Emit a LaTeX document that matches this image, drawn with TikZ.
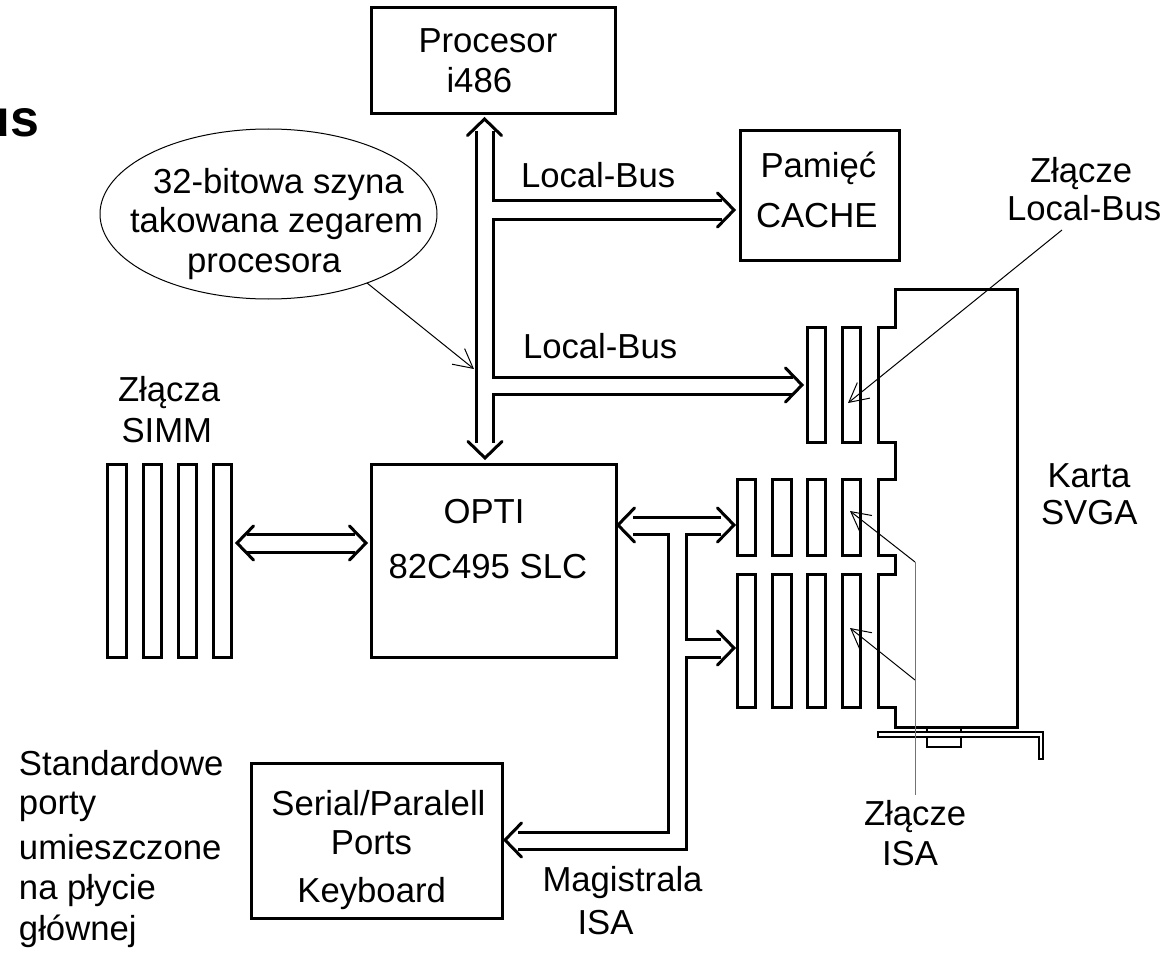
\documentclass[tikz,border=0pt]{standalone}
\usepackage{fontspec}
\setmainfont{Liberation Sans}
\usetikzlibrary{arrows.meta,shapes.geometric,calc}
\tikzset{
  x=1pt,y=-1pt,
  every node/.style={inner sep=0pt,outer sep=0pt,font=\fontsize{34.7}{41}\selectfont},
  box/.style={draw,line width=3pt,anchor=north west},
  slot/.style={draw,line width=3pt,anchor=north west,minimum width=18.5pt},
  lbl/.style={anchor=base west,align=left},
  bus/.style={line width=3pt,line join=miter},
  callout/.style={line width=1pt,-{Straight Barb[length=19pt,width=20pt,line width=1pt]}},
  stem/.style={line width=1pt,draw=black!55},
}
% hollow-arrow barbs at a named tip: #1 tip, #2/#3 offsets
\newcommand{\headat}[3]{\draw[bus,line cap=round] ($(#1)+(#2)$) -- (#1) -- ($(#1)+(#3)$);}
\begin{document}
\begin{tikzpicture}
\useasboundingbox (0,0) rectangle (1176,955);

% main boxes
\node[box,minimum width=244.5pt,minimum height=106pt] (cpu) at (371,8) {};
\node[box,minimum width=159pt,minimum height=129pt] (cache) at (740,131) {};
\node[box,minimum width=245pt,minimum height=193pt] (opti) at (371,464) {};
\node[box,minimum width=250.5pt,minimum height=155pt] (ports) at (251.5,763) {};

% SIMM slots
\foreach \n/\x in {1/107.5,2/143,3/178,4/213}
  \node[slot,minimum height=193pt] (simm\n) at (\x,464) {};
% Local-Bus slots
\foreach \n/\x in {1/807,2/842}
  \node[slot,minimum height=115pt] (lb\n) at (\x,327) {};
% ISA slots
\foreach \n/\x in {1/737,2/772.5,3/807,4/842}{
  \node[slot,minimum height=76pt] (isaa\n) at (\x,479) {};
  \node[slot,minimum height=133pt] (isab\n) at (\x,574) {};
}

% SVGA card
\draw[bus] (895,289) -- (895,327) -- (878,327) -- (878,442) -- (895,442) -- (895,479)
  -- (878,479) -- (878,555) -- (895,555) -- (895,574) -- (878,574) -- (878,707)
  -- (895,707) -- (895,727) -- (1017,727) -- (1017,289) -- cycle;
\draw[line width=2.5pt,line join=miter] (878,732) -- (1043,732) -- (1043,759) -- (1039,759) -- (1039,737) -- (878,737) -- cycle;
\draw[line width=2pt] (927,727) -- (927,732) (961,727) -- (961,732);
\draw[line width=2.5pt] (927,737) -- (927,747) -- (961,747) -- (961,737);

% tips of the bus arrows
\coordinate (tipCpu) at (484.5,119);
\coordinate (tipOpti) at (485,458);
\coordinate (tipCache) at (734,210);
\coordinate (tipLb) at (802,385);
\coordinate (tipSimm) at (237,543);
\coordinate (tipOptiL) at (366,543);
\coordinate (tipIsaL) at (618,525);
\coordinate (tipIsaA) at (734,525);
\coordinate (tipIsaB) at (734,648);
\coordinate (tipPorts) at (505,840);

% processor bus
\draw[bus] (476,131) -- (476,443);
\draw[bus] (493,131) -- (493,201) -- (722,201);
\draw[bus] (722,219) -- (493,219) -- (493,377) -- (793,377);
\draw[bus] (793,394) -- (493,394) -- (493,443);
\headat{tipCpu}{-17,16.5}{17,16.5}
\headat{tipOpti}{-17,-16.5}{17,-16.5}
\headat{tipCache}{-16.5,-17}{-16.5,17}
\headat{tipLb}{-16.5,-17}{-16.5,17}

% SIMM bus
\draw[bus] (247,534) -- (355,534) (247,552) -- (355,552);
\headat{tipSimm}{16.5,-17}{16.5,17}
\headat{tipOptiL}{-16.5,-17}{-16.5,17}

% ISA bus
\draw[bus] (633,517) -- (721,517);
\draw[bus] (633,534) -- (668,534) -- (668,832) -- (518,832);
\draw[bus] (721,534) -- (686,534) -- (686,639) -- (721,639);
\draw[bus] (721,657) -- (686,657) -- (686,849) -- (518,849);
\headat{tipIsaL}{16.5,-17}{16.5,17}
\headat{tipIsaA}{-16.5,-17}{-16.5,17}
\headat{tipIsaB}{-16.5,-17}{-16.5,17}
\headat{tipPorts}{16.5,-17}{16.5,17}

% note ellipse
\node[draw,ellipse,line width=1pt,minimum width=337pt,minimum height=170pt] (note) at (268.5,214) {};
\node[lbl] (noteText) at (130,272) {\hspace*{23pt}32-bitowa szyna\\[-2pt]takowana zegarem\\[-1pt]\hspace*{57pt}procesora};

% labels
\node[font=\fontsize{52}{54}\selectfont\bfseries,anchor=base east] (us) at (39.5,137) {us};
\node[lbl] (cpuText) at (418.5,93) {Procesor\\[-1pt]\hspace*{28pt}i486};
\node[lbl] (lbusA) at (521,188) {Local-Bus};
\node[lbl] (lbusB) at (523,358) {Local-Bus};
\node[lbl] (cacheText) at (756,227) {\hspace*{4.5pt}Pamięć\\[9pt]CACHE};
\node[lbl] (lbConn) at (1007,220) {\hspace*{23pt}Złącze\\[-3pt]Local-Bus};
\node[lbl] (card) at (1041,524) {\hspace*{6.5pt}Karta\\[-4pt]SVGA};
\node[lbl] (simmText) at (118,442) {Złącza\\\hspace*{3.5pt}SIMM};
\node[lbl] (optiText) at (388.5,578) {\hspace*{55pt}OPTI\\[14pt]82C495 SLC};
\node[lbl] (stdText) at (19,940) {Standardowe\\[-2pt]porty\\[4pt]umieszczone\\[-1pt]na płycie\\głównej};
\node[lbl] (portsText) at (271.4,902) {Serial/Paralell\\[-2pt]\hspace*{59.5pt}Ports\\[7pt]\hspace*{26pt}Keyboard};
\node[lbl] (magText) at (542.5,934) {Magistrala\\[2pt]\hspace*{35pt}ISA};
\node[lbl] (isaText) at (864,865) {Złącze\\[-1pt]\hspace*{18pt}ISA};

% callouts
\coordinate (noteTip) at (474,369);
\draw[callout] (note.-35.6) -- (noteTip);
\coordinate (lbStart) at (1062,230);
\coordinate (lbTip) at (848,403);
\draw[callout] (lbStart) -- (lbTip);
\coordinate (jA) at (915,562);
\coordinate (jB) at (915,680);
\coordinate (jEnd) at (915,795);
\coordinate (isaTipA) at (850,511);
\coordinate (isaTipB) at (850,628);
\draw[callout] (jA) -- (isaTipA);
\draw[callout] (jB) -- (isaTipB);
\draw[stem] (jA) -- (jEnd);
\end{tikzpicture}
\end{document}
